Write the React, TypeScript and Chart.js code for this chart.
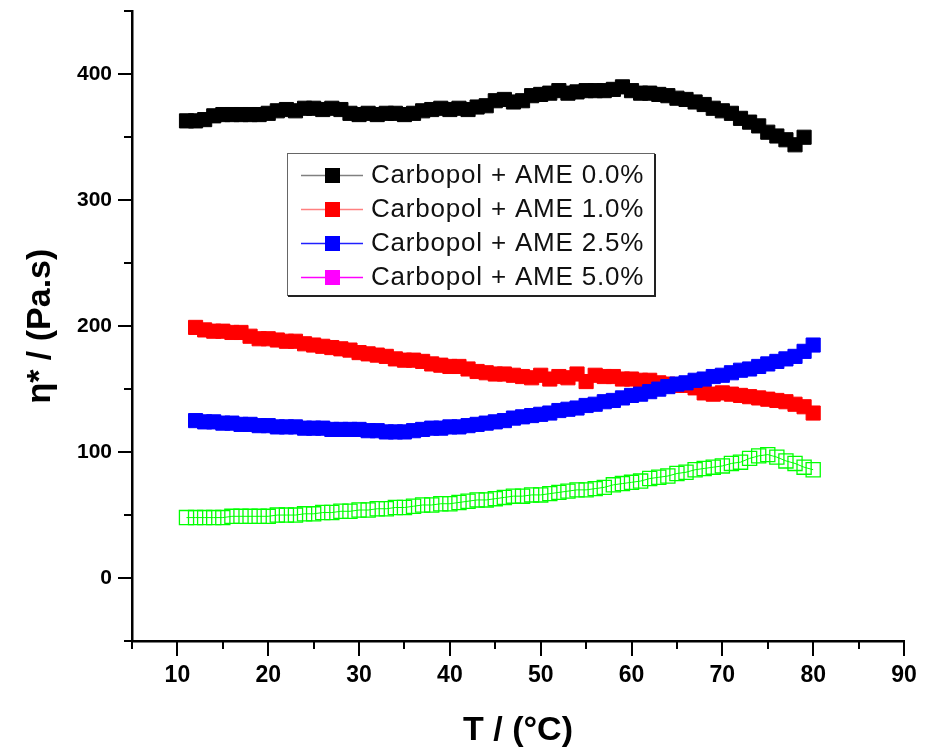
import React, { useEffect, useRef } from "react";
import { Chart, registerables } from "chart.js";

Chart.register(...registerables);

// ---------- data ----------
const seriesLabels = [
  "Carbopol + AME 0.0%",
  "Carbopol + AME 1.0%",
  "Carbopol + AME 2.5%",
  "Carbopol + AME 5.0%",
];

const tempsAME00 = [
  11, 12, 13, 14, 15, 16, 17, 18, 19, 20, 21, 22, 23, 24, 25, 26, 27, 28, 29, 30,
  31, 32, 33, 34, 35, 36, 37, 38, 39, 40, 41, 42, 43, 44, 45, 46, 47, 48, 49, 50,
  51, 52, 53, 54, 55, 56, 57, 58, 59, 60, 61, 62, 63, 64, 65, 66, 67, 68, 69, 70,
  71, 72, 73, 74, 75, 76, 77, 78, 79,
];
const etaAME00 = [
  363, 363, 364, 367, 368, 368, 368, 368, 368, 369,
  371, 372, 371, 373, 373, 372, 373, 372, 369, 368,
  369, 368, 369, 369, 368, 369, 371, 372, 373, 372,
  373, 372, 374, 375, 379, 380, 378, 379, 383, 384,
  385, 387, 385, 386, 387, 387, 387, 388, 390, 387,
  385, 385, 384, 383, 381, 380, 378, 376, 373, 371,
  369, 365, 362, 359, 354, 351, 348, 344, 350,
];

const tempsAME10 = [
  12, 13, 14, 15, 16, 17, 18, 19, 20, 21, 22, 23, 24, 25, 26, 27, 28, 29, 30,
  31, 32, 33, 34, 35, 36, 37, 38, 39, 40, 41, 42, 43, 44, 45, 46, 47, 48, 49, 50,
  51, 52, 53, 54, 55, 56, 57, 58, 59, 60, 61, 62, 63, 64, 65, 66, 67, 68, 69, 70,
  71, 72, 73, 74, 75, 76, 77, 78, 79, 80,
];
const etaAME10 = [
  199, 197, 196, 196, 195, 195, 192, 190, 190,
  189, 188, 188, 186, 185, 184, 183, 182, 181, 179,
  178, 177, 176, 174, 173, 173, 172, 170, 169, 168,
  168, 166, 164, 163, 162, 162, 161, 160, 159, 161,
  158, 160, 159, 162, 156, 161, 160, 160, 158, 158,
  157, 157, 155, 154, 153, 153, 151, 147, 146, 147,
  146, 145, 144, 143, 142, 141, 140, 138, 136, 131,
];

const tempsAME25 = [
  12, 13, 14, 15, 16, 17, 18, 19, 20, 21, 22, 23, 24, 25, 26, 27, 28, 29, 30,
  31, 32, 33, 34, 35, 36, 37, 38, 39, 40, 41, 42, 43, 44, 45, 46, 47, 48, 49, 50,
  51, 52, 53, 54, 55, 56, 57, 58, 59, 60, 61, 62, 63, 64, 65, 66, 67, 68, 69, 70,
  71, 72, 73, 74, 75, 76, 77, 78, 79, 80,
];
const etaAME25 = [
  125, 124, 124, 123, 123, 122, 122, 121, 121,
  120, 120, 120, 119, 119, 119, 118, 118, 118, 118,
  117, 117, 116, 116, 116, 117, 118, 119, 119, 120,
  120, 121, 122, 123, 124, 125, 127, 128, 129, 130,
  131, 133, 134, 135, 137, 138, 140, 141, 143, 145,
  146, 148, 150, 152, 154, 155, 157, 158, 160, 161,
  163, 165, 166, 168, 170, 172, 174, 176, 180, 185,
];

const tempsAME50 = [
  11, 12, 13, 14, 15, 16, 17, 18, 19, 20, 21, 22, 23, 24, 25, 26, 27, 28, 29, 30,
  31, 32, 33, 34, 35, 36, 37, 38, 39, 40, 41, 42, 43, 44, 45, 46, 47, 48, 49, 50,
  51, 52, 53, 54, 55, 56, 57, 58, 59, 60, 61, 62, 63, 64, 65, 66, 67, 68, 69, 70,
  71, 72, 73, 74, 75, 76, 77, 78, 79, 80,
];
const etaAME50 = [
  48, 48, 48, 48, 48, 49, 49, 49, 49, 49,
  50, 50, 50, 51, 51, 52, 52, 53, 53, 54,
  54, 55, 55, 56, 56, 57, 58, 58, 59, 59,
  60, 61, 62, 62, 63, 64, 65, 65, 66, 66,
  67, 68, 69, 70, 70, 71, 72, 74, 75, 76,
  77, 79, 80, 81, 83, 84, 86, 87, 88, 89,
  91, 92, 95, 97, 98, 96, 93, 91, 88, 86,
];

const xTickLabelValues = [10, 20, 30, 40, 50, 60, 70, 80, 90];
const yTickLabelValues = [0, 100, 200, 300, 400];

const markerColors = ["#000000", "#ff0000", "#0000ff", "#00ff00"];
const markerFills = ["#000000", "#ff0000", "#0000ff", "rgba(0,0,0,0)"];
const legendLineColors = ["#808080", "#ff8080", "#2020ff", "#ff00ff"];
const legendMarkerColors = ["#000000", "#ff0000", "#0000ff", "#ff00ff"];

const FONT = "'Liberation Sans', Arial, Helvetica, sans-serif";

// ---------- plugins ----------
const axisTicksPlugin = {
  id: "axisTicks",
  afterDraw(chart: any) {
    const { ctx, chartArea } = chart;
    const xs = chart.scales.x;
    const ys = chart.scales.y;
    ctx.save();
    ctx.strokeStyle = "#000";
    ctx.lineWidth = 2;
    ctx.lineCap = "butt";
    xs.ticks.forEach((t: any) => {
      const px = Math.round(xs.getPixelForValue(t.value));
      const len = xTickLabelValues.includes(t.value) ? 15 : 8;
      ctx.beginPath();
      ctx.moveTo(px, chartArea.bottom);
      ctx.lineTo(px, chartArea.bottom + len);
      ctx.stroke();
    });
    ys.ticks.forEach((t: any) => {
      const py = Math.round(ys.getPixelForValue(t.value));
      const len = yTickLabelValues.includes(t.value) ? 14 : 8;
      ctx.beginPath();
      ctx.moveTo(chartArea.left, py);
      ctx.lineTo(chartArea.left - len, py);
      ctx.stroke();
    });
    ctx.restore();
  },
};

const boxLegendPlugin = {
  id: "boxLegend",
  afterDraw(chart: any) {
    const { ctx } = chart;
    const left = 287;
    const top = 153;
    const w = 367;
    const h = 142;
    ctx.save();
    ctx.fillStyle = "#ffffff";
    ctx.fillRect(left, top, w, h);
    ctx.strokeStyle = "#666";
    ctx.lineWidth = 1;
    ctx.strokeRect(left + 0.5, top + 0.5, w, h);
    ctx.strokeStyle = "#222";
    ctx.lineWidth = 2;
    ctx.beginPath();
    ctx.moveTo(left + w + 1, top + 1);
    ctx.lineTo(left + w + 1, top + h + 1);
    ctx.lineTo(left + 1, top + h + 1);
    ctx.stroke();

    ctx.font = `26px ${FONT}`;
    try {
      (ctx as any).letterSpacing = "0.8px";
    } catch (e) {}
    ctx.textBaseline = "middle";
    ctx.textAlign = "left";
    seriesLabels.forEach((label, i) => {
      const cy = 175 + i * 34;
      ctx.strokeStyle = legendLineColors[i];
      ctx.lineWidth = 1.5;
      ctx.beginPath();
      ctx.moveTo(301, cy + 0.5);
      ctx.lineTo(363, cy + 0.5);
      ctx.stroke();
      ctx.fillStyle = legendMarkerColors[i];
      ctx.fillRect(325, cy - 7, 15, 15);
      ctx.fillStyle = "#111";
      ctx.fillText(label, 371, cy + 1);
    });
    ctx.restore();
  },
};

function makePoints(xs: number[], ys: number[]) {
  return xs.map((x, i) => ({ x, y: ys[i] }));
}

export default function App() {
  const canvasRef = useRef<HTMLCanvasElement | null>(null);

  useEffect(() => {
    if (!canvasRef.current) return;
    const temps = [tempsAME00, tempsAME10, tempsAME25, tempsAME50];
    const etas = [etaAME00, etaAME10, etaAME25, etaAME50];
    const datasets = seriesLabels.map((label, i) => ({
      label,
      data: makePoints(temps[i], etas[i]),
      showLine: true,
      borderColor: markerColors[i],
      borderWidth: 1,
      backgroundColor: markerFills[i],
      pointStyle: "rect",
      pointRadius: 10,
      pointBorderWidth: i === 3 ? 1.3 : 1,
      pointBorderColor: markerColors[i],
      pointBackgroundColor: markerFills[i],
      order: 4 - i,
    }));

    const chart = new Chart(canvasRef.current, {
      type: "scatter",
      data: { datasets: datasets as any },
      options: {
        responsive: false,
        animation: false,
        devicePixelRatio: 1,
        layout: { padding: { top: 8, right: 21, left: 0, bottom: 0 } },
        plugins: {
          legend: { display: false },
          tooltip: { enabled: false },
        },
        scales: {
          x: {
            type: "linear",
            min: 5,
            max: 90,
            afterFit: (s: any) => {
              s.height = 114;
              s.paddingLeft = 0;
              s.paddingRight = 0;
              s.paddingTop = 0;
              s.paddingBottom = 0;
            },
            grid: { display: false, drawTicks: false },
            border: { display: true, color: "#000", width: 2.5 },
            ticks: {
              stepSize: 5,
              autoSkip: false,
              maxRotation: 0,
              padding: 21,
              color: "#000",
              font: { family: FONT, size: 23, weight: "bold" },
              callback: (v: any) => (xTickLabelValues.includes(v) ? String(v) : ""),
            },
            title: {
              display: true,
              text: "T / (\u00B0C)",
              color: "#000",
              font: { family: FONT, size: 34, weight: "bold" },
              padding: { top: 0, bottom: 4 },
            },
          },
          y: {
            type: "linear",
            min: -50,
            max: 450,
            afterFit: (s: any) => {
              s.width = 132;
              s.paddingLeft = 0;
              s.paddingRight = 0;
              s.paddingTop = 0;
              s.paddingBottom = 0;
            },
            grid: { display: false, drawTicks: false },
            border: { display: true, color: "#000", width: 2.5 },
            ticks: {
              stepSize: 50,
              autoSkip: false,
              padding: 20,
              color: "#000",
              font: { family: FONT, size: 21, weight: "bold" },
              callback: (v: any) => (yTickLabelValues.includes(v) ? String(v) : ""),
            },
            title: {
              display: true,
              text: "\u03B7* / (Pa.s)",
              color: "#000",
              font: { family: FONT, size: 34, weight: "bold" },
              padding: { top: 20, bottom: 0 },
            },
          },
        },
      },
      plugins: [axisTicksPlugin, boxLegendPlugin],
    });
    return () => chart.destroy();
  }, []);

  return (
    <div style={{ position: "absolute", left: 0, top: 0, width: 925, height: 755, background: "#fff" }}>
      <canvas ref={canvasRef} width={925} height={755} />
    </div>
  );
}
